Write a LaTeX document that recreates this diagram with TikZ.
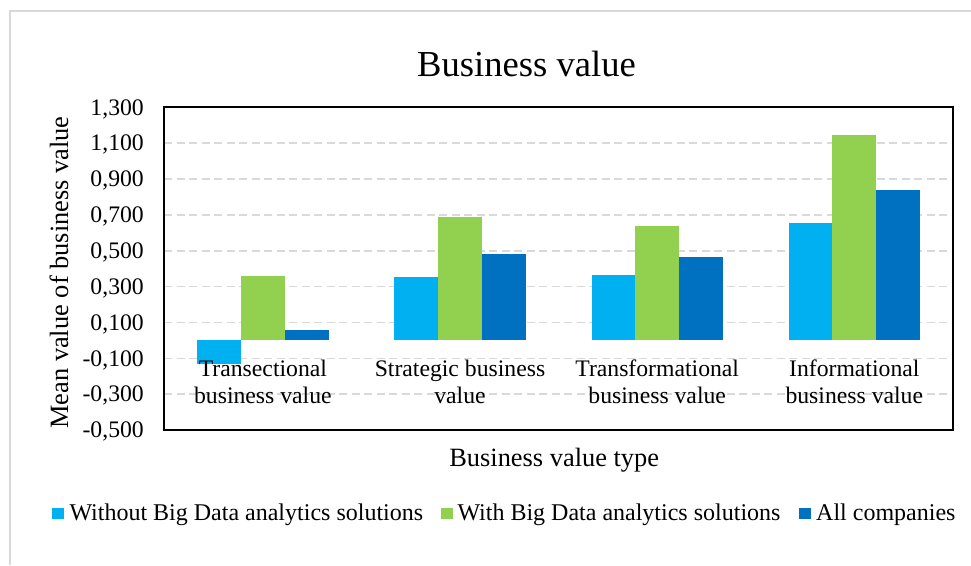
\documentclass[tikz,border=0pt]{standalone}
\usepackage{fontspec}
\setmainfont{Liberation Serif}
\definecolor{cyanbar}{HTML}{00B0F0}
\definecolor{greenbar}{HTML}{92D050}
\definecolor{bluebar}{HTML}{0070C0}
\definecolor{gridgray}{HTML}{D9D9D9}
\begin{document}
\begin{tikzpicture}[x=1pt,y=-1pt,
  ticklab/.style={anchor=base east, inner sep=0pt, font=\fontsize{23.7}{28}\selectfont},
  catlab/.style={anchor=north, inner sep=0pt, align=center, font=\fontsize{23.7}{27}\selectfont},
  legtext/.style={anchor=base west, inner sep=0pt, font=\fontsize{24}{28}\selectfont},
  axtitle/.style={anchor=base, inner sep=0pt, font=\fontsize{26.4}{30}\selectfont},
  gridline/.style={draw=gridgray, line width=1.5pt, dash pattern=on 8pt off 4.5pt},
  legsq/.style={inner sep=0pt, minimum size=11.6pt},
]
\useasboundingbox (0,0) rectangle (971,565);
\fill[white] (0,0) rectangle (971,565);
% outer chart frame (cut by the image edges)
\draw[gridgray, line width=1.5pt] (10,565) -- (10,11) -- (971,11);
% title
\node[anchor=base, inner sep=0pt, font=\fontsize{36.6}{40}\selectfont] (title) at (526.5,76.7) {Business value};
% gridlines
\foreach \v in {1.1,0.9,0.7,0.5,0.3,0.1,-0.1,-0.3}{
  \draw[gridline] (164,{340.4-179.3*(\v)}) -- (952.7,{340.4-179.3*(\v)});
}
% tick labels
\foreach \v/\t in {1.3/{1,300},1.1/{1,100},0.9/{0,900},0.7/{0,700},0.5/{0,500},0.3/{0,300},0.1/{0,100},-0.1/{-0,100},-0.3/{-0,300},-0.5/{-0,500}}{
  \node[ticklab] at (144,{340.4-179.3*(\v)+7.7}) {\t};
}
% bars
\foreach \c/\a/\b/\d in {262.9/-0.134/0.359/0.056, 460.0/0.355/0.690/0.482, 657.2/0.363/0.636/0.465, 854.3/0.654/1.145/0.840}{
  \fill[cyanbar]  ({\c-65.7},340.4) rectangle ({\c-21.9},{340.4-179.3*(\a)});
  \fill[greenbar] ({\c-21.9},340.4) rectangle ({\c+21.9},{340.4-179.3*(\b)});
  \fill[bluebar]  ({\c+21.9},340.4) rectangle ({\c+65.7},{340.4-179.3*(\d)});
}
% plot border
\draw[black, line width=1.8pt] (164,107.3) rectangle (952.7,430);
% category labels
\node[catlab] (cat1) at (262.9,359.8) {Transectional\\business value};
\node[catlab] (cat2) at (460.0,359.8) {Strategic business\\value};
\node[catlab] (cat3) at (657.2,359.8) {Transformational\\business value};
\node[catlab] (cat4) at (854.3,359.8) {Informational\\business value};
% axis titles
\node[axtitle, rotate=90] (ytitle) at (68,272.5) {Mean value of business value};
\node[axtitle] (xtitle) at (554.2,466) {Business value type};
% legend
\node[legsq, fill=cyanbar] (sq1) at (58.0,513.5) {};
\node[legtext] (lg1) at (69.3,520) {Without Big Data analytics solutions};
\node[legsq, fill=greenbar] (sq2) at (446.8,513.5) {};
\node[legtext] (lg2) at (457.3,520) {With Big Data analytics solutions};
\node[legsq, fill=bluebar] (sq3) at (804.9,513.5) {};
\node[legtext] (lg3) at (816,520) {All companies};
\end{tikzpicture}
\end{document}
